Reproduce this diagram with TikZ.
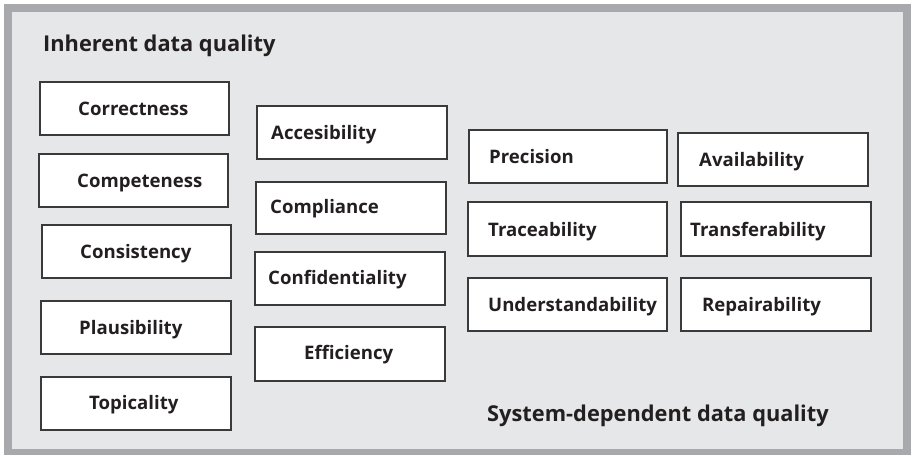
\documentclass[tikz,border=0pt]{standalone}
\usepackage{fontspec}
\setmainfont{Open Sans}
\definecolor{framegray}{HTML}{A7A9AC}
\definecolor{panelgray}{HTML}{E6E7E8}
\definecolor{inkc}{HTML}{231F20}
\definecolor{edgec}{HTML}{3A3A3A}
\begin{document}
\begin{tikzpicture}[x=1pt,y=-1pt,
  box/.style={draw=edgec, line width=1.2pt, fill=white, inner sep=0pt, minimum width=190pt, minimum height=53pt},
  lbl/.style={anchor=base west, inner sep=0pt, text=inkc, font=\bfseries\fontsize{18.6}{22}\selectfont},
  ttl/.style={anchor=base west, inner sep=0pt, text=inkc, font=\bfseries\fontsize{21.8}{26}\selectfont}]
\useasboundingbox (0,0) rectangle (911,455);
\fill[white] (0,0) rectangle (911,455);
\fill[framegray] (4,4) rectangle (911,455);
\fill[panelgray] (12,12) rectangle (903,449);
% titles
\node[ttl] (tinh) at (43,51) {Inherent data quality};
\node[ttl] (tsys) at (487,421) {System-dependent data quality};
% column 1
\node[box, minimum width=189pt] (corr) at (134.5,108.5) {};
\node[box, minimum width=189pt] (compt) at (133.5,180.5) {};
\node[box, minimum width=189pt] (cons) at (136.5,251.5) {};
\node[box] (plaus) at (136,327.5) {};
\node[box] (topic) at (136,403.5) {};
\node[lbl] (lcorr) at (78,115) {Correctness};
\node[lbl] (lcompt) at (77,187) {Competeness};
\node[lbl] (lcons) at (80,258) {Consistency};
\node[lbl] (lplaus) at (79,334) {Plausibility};
\node[lbl] (ltopic) at (89,409) {Topicality};
% column 2
\node[box] (acc) at (352,132.5) {};
\node[box, minimum height=52pt] (compl) at (351,208) {};
\node[box] (conf) at (350,278.5) {};
\node[box, minimum height=54pt] (eff) at (350,354) {};
\node[lbl] (lacc) at (271,139) {Accesibility};
\node[lbl] (lcompl) at (270,213) {Compliance};
\node[lbl] (lconf) at (268,284) {Confidentiality};
\node[lbl] (leff) at (304,359) {Efficiency};
% columns 3 and 4
\node[box, minimum width=198pt] (prec) at (568,156.5) {};
\node[box] (avail) at (773,159.5) {};
\node[box, minimum width=199pt, minimum height=54pt] (trace) at (567.5,229) {};
\node[box, minimum height=54pt] (trans) at (776,229) {};
\node[box, minimum width=199pt] (under) at (567.5,304.5) {};
\node[box] (repair) at (776,304.5) {};
\node[lbl] (lprec) at (489,163) {Precision};
\node[lbl] (lavail) at (699,166) {Availability};
\node[lbl] (ltrace) at (488,236) {Traceability};
\node[lbl] (ltrans) at (690,236) {Transferability};
\node[lbl] (lunder) at (488,311) {Understandability};
\node[lbl] (lrepair) at (702,311) {Repairability};
\end{tikzpicture}
\end{document}
